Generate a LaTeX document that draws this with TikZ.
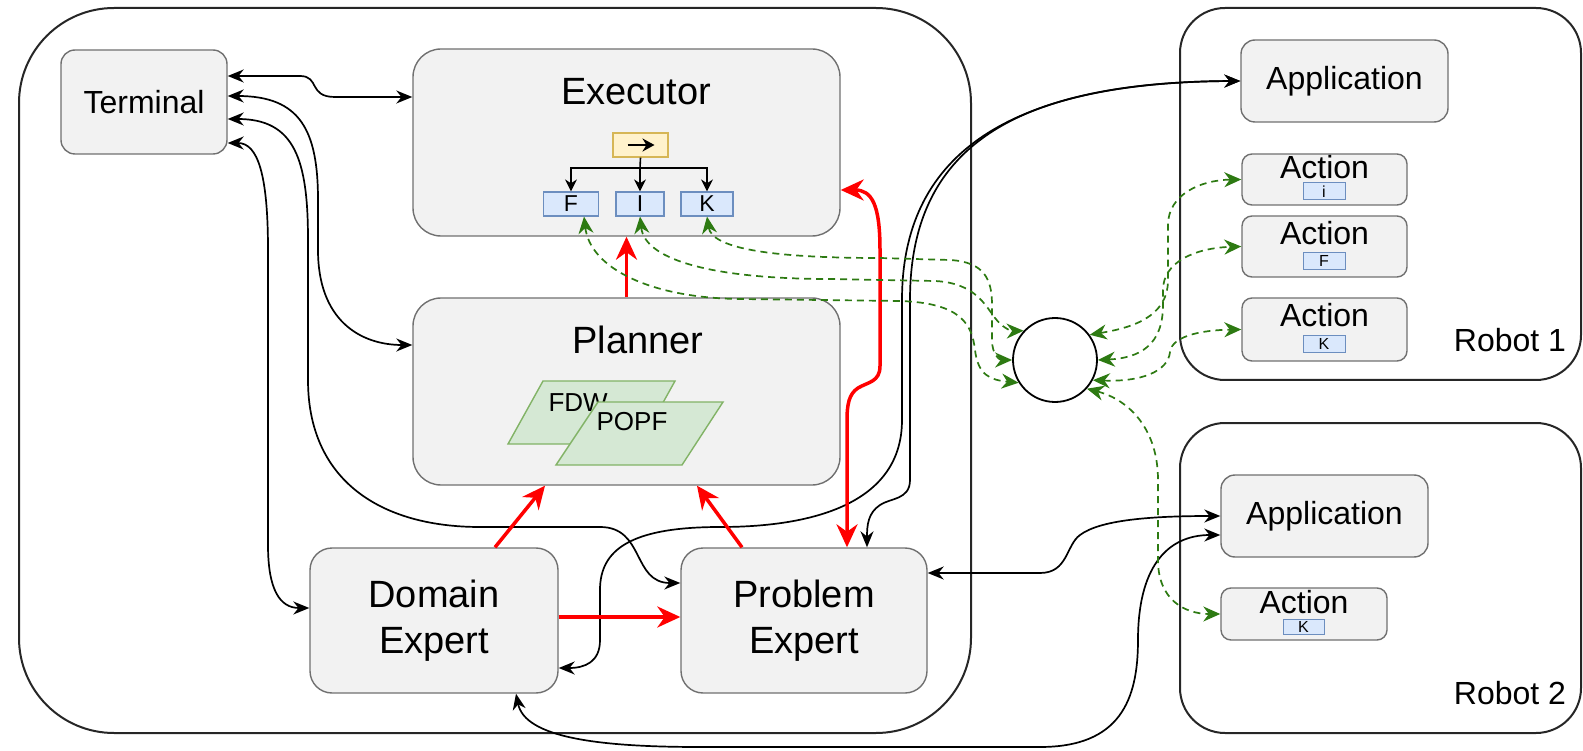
\documentclass[tikz,border=0pt]{standalone}
\usepackage{fontspec}
\setmainfont{Liberation Sans}
\usetikzlibrary{arrows.meta}

\definecolor{boxfill}{HTML}{F2F2F2}
\definecolor{boxline}{HTML}{707070}
\definecolor{tagfill}{HTML}{DAE8FC}
\definecolor{tagline}{HTML}{6C8EBF}
\definecolor{seqfill}{HTML}{FFF2CC}
\definecolor{seqline}{HTML}{D6B656}
\definecolor{plfill}{HTML}{D5E8D4}
\definecolor{plline}{HTML}{82B366}
\definecolor{msggreen}{HTML}{2D7A12}

\newcommand{\fntL}{\fontsize{38}{46}\selectfont}
\newcommand{\fntM}{\fontsize{32}{38}\selectfont}
\newcommand{\fntP}{\fontsize{26}{30}\selectfont}
\newcommand{\fntS}{\fontsize{23}{25}\selectfont}
\newcommand{\fntT}{\fontsize{16}{18}\selectfont}

\tikzset{
  frame/.style={draw=black!85, line width=2pt},
  comp/.style={draw=boxline, fill=boxfill, line width=1.4pt, rounded corners=#1, inner sep=0pt},
  comp/.default=22pt,
  seq/.style={draw=seqline, fill=seqfill, line width=1.2pt, inner sep=0pt},
  tag/.style={draw=tagline, fill=tagfill, line width=1.2pt, minimum height=24pt, inner sep=0pt, font=\fntS},
  tagsm/.style={draw=tagline, fill=tagfill, line width=1pt, minimum width=42pt, minimum height=17pt, inner sep=0pt, font=\fntT},
  pln/.style={draw=plline, fill=plfill, line width=1.4pt},
  tree/.style={draw=black, line width=1.6pt},
  link/.style={draw=black, line width=1.7pt, <->},
  flow/.style={draw=red, line width=3.5pt, -{Stealth[length=23pt,width=21pt]}},
  flowboth/.style={draw=red, line width=3.5pt, {Stealth[length=23pt,width=21pt]}-{Stealth[length=23pt,width=21pt]}},
  msg/.style={draw=msggreen, line width=1.7pt, dash pattern=on 7pt off 5pt,
    {Stealth[length=17pt,width=15pt]}-{Stealth[length=17pt,width=15pt]}}
}

\begin{document}
\begin{tikzpicture}[x=1pt, y=-1pt, >={Stealth[length=16pt,width=13pt]}]
  \useasboundingbox (0,0) rectangle (1583,751);

  % Containers.
  \draw[frame, rounded corners=95pt] (19,8) rectangle (971,733);
  \draw[frame, rounded corners=45pt] (1180,8) rectangle (1581,380);
  \draw[frame, rounded corners=45pt] (1180,423) rectangle (1581,733);
  \node[font=\fntM] (rob1) at (1510,340) {Robot 1};
  \node[font=\fntM] (rob2) at (1510,693) {Robot 2};

  % Planning system.
  \node[comp=14pt, minimum width=166pt, minimum height=104pt, font=\fntM] (term) at (144,102) {Terminal};
  \node[comp=28pt, minimum width=427pt, minimum height=187pt] (exec) at (626.5,142.5) {};
  \node[font=\fntL] (execlbl) at (636,92) {Executor};
  \node[comp=28pt, minimum width=427pt, minimum height=187pt] (plan) at (626.5,391.5) {};
  \node[font=\fntL] (planlbl) at (638,340) {Planner};
  \node[comp, minimum width=248pt, minimum height=145pt, align=center, font=\fntL] (dom) at (434,620.5) {Domain\\Expert};
  \node[comp, minimum width=246pt, minimum height=145pt, align=center, font=\fntL] (prob) at (804,620.5) {Problem\\Expert};

  % Behaviour tree.
  \node[seq, minimum width=55pt, minimum height=24pt] (seq) at (640.5,145) {};
  \draw[line width=2.8pt, -{Stealth[length=12pt,width=13pt]}] ([xshift=-13pt]seq.center) -- ([xshift=14pt]seq.center);
  \node[tag, minimum width=55pt] (bF) at (571,204) {F};
  \node[tag, minimum width=48pt] (bI) at (640,204) {I};
  \node[tag, minimum width=52pt] (bK) at (707,204) {K};
  \draw[tree] (seq.south) -- (640,168) coordinate (fork);
  \draw[tree, -{Stealth[length=12pt,width=12pt]}] (fork) -| (bF);
  \draw[tree, -{Stealth[length=12pt,width=12pt]}] (fork) -- (bI);
  \draw[tree, -{Stealth[length=12pt,width=12pt]}] (fork) -| (bK);

  % Planners.
  \filldraw[pln] (508,444) -- (543,381) -- (675,381) -- (640,444) -- cycle;
  \node[font=\fntP, anchor=west] (fdw) at (545,403) {FDW};
  \filldraw[pln] (556,465) -- (598,402) -- (723,402) -- (682,465) -- cycle;
  \node[font=\fntP] (popf) at (632,422) {POPF};

  % Robot 1.
  \node[comp=14pt, minimum width=207pt, minimum height=82pt, font=\fntM] (app1) at (1344.5,81) {Application};
  \node[comp=10pt, minimum width=165pt, minimum height=51pt] (act1) at (1324.5,179.5) {};
  \node[font=\fntM] (act1lbl) at (1324.5,167) {Action};
  \node[tagsm] (act1tag) at (1324,191.5) {i};
  \node[comp=10pt, minimum width=165pt, minimum height=61pt] (act2) at (1324.5,246.5) {};
  \node[font=\fntM] (act2lbl) at (1324.5,233) {Action};
  \node[tagsm] (act2tag) at (1324,261) {F};
  \node[comp=10pt, minimum width=165pt, minimum height=63pt] (act3) at (1324.5,329.5) {};
  \node[font=\fntM] (act3lbl) at (1324.5,315) {Action};
  \node[tagsm] (act3tag) at (1324,344) {K};

  % Robot 2.
  \node[comp=14pt, minimum width=207pt, minimum height=82pt, font=\fntM] (app2) at (1324.5,516) {Application};
  \node[comp=10pt, minimum width=166pt, minimum height=52pt] (act4) at (1304,614) {};
  \node[font=\fntM] (act4lbl) at (1304,602) {Action};
  \node[tagsm, minimum width=41pt, minimum height=15pt] (act4tag) at (1303.5,626.5) {K};

  % Hub.
  \node[draw, circle, line width=1.8pt, minimum size=84pt, inner sep=0pt] (hub) at (1055,360) {};

  % Terminal links.
  \draw[link] (term.east |- 0,76) -- (300,76) .. controls (320,76) and (308,97) .. (335,97) -- (exec.west |- 0,97);
  \draw[link] (term.east |- 0,96) .. controls (300,96) and (318,130) .. (318,200) -- (318,250) .. controls (318,320) and (360,345) .. (plan.west |- 0,345);
  \draw[link] (term.east |- 0,119) .. controls (295,119) and (308,160) .. (308,240) -- (308,380) .. controls (308,480) and (380,527) .. (480,527) -- (600,527) .. controls (645,527) and (632,583) .. (prob.west |- 0,583);
  \draw[link] (term.east |- 0,143) .. controls (258,143) and (268,175) .. (268,250) -- (268,545) .. controls (268,590) and (280,608) .. (dom.west |- 0,608);

  % Application links.
  \draw[link] (app1.west) .. controls (1010,82) and (910,150) .. (910,300) -- (910,480) .. controls (910,500) and (890,498) .. (880,505) .. controls (868,513) and (867,525) .. (prob.north -| 867,0);
  \draw[link] (app1.west) .. controls (1000,82) and (902,160) .. (902,300) -- (902,420) .. controls (902,500) and (820,527) .. (720,527) .. controls (630,527) and (600,550) .. (600,590) -- (600,640) .. controls (600,662) and (585,668) .. (dom.east |- 0,668);
  \draw[link] (prob.east |- 0,573) -- (1040,573) .. controls (1068,573) and (1066,545) .. (1080,535) .. controls (1100,520) and (1150,516) .. (app2.west);
  \draw[link] (dom.south -| 516,0) .. controls (525,738) and (600,747) .. (700,747) -- (1040,747) .. controls (1120,747) and (1138,700) .. (1138,640) .. controls (1138,570) and (1165,535) .. (app2.west |- 0,535);

  % Planning flow.
  \draw[flow] (plan.north) -- (exec.south);
  \draw[flow] (dom.north -| 495,0) -- (plan.south -| 545,0);
  \draw[flow] (prob.north -| 742,0) -- (plan.south -| 697,0);
  \draw[flow] (dom.east |- 0,617) -- (prob.west |- 0,617);
  \draw[flowboth] (exec.east |- 0,190) .. controls (872,190) and (880,205) .. (880,250) -- (880,366) .. controls (880,382) and (868,382) .. (858,388) .. controls (849,394) and (847,404) .. (847,421) -- (prob.north -| 847,0);

  % Action messages.
  \draw[msg] (bK.south) .. controls (712,250) and (780,258) .. (880,258) -- (950,260) .. controls (985,262) and (992,280) .. (992,305) -- (992,340) .. controls (992,355) and (1000,360) .. (hub.west);
  \draw[msg] (bI.south) .. controls (645,262) and (720,279) .. (830,279) -- (935,281) .. controls (975,283) and (985,305) .. (995,318) .. controls (1002,327) and (1010,331) .. (hub.137);
  \draw[msg] (bF.south -| 584,0) .. controls (590,268) and (650,298) .. (740,299) -- (900,301) .. controls (962,303) and (972,325) .. (975,350) .. controls (978,375) and (990,380) .. (hub.212);
  \draw[msg] (hub.36) .. controls (1130,328) and (1168,318) .. (1168,280) -- (1168,225) .. controls (1168,195) and (1200,180) .. (act1.west);
  \draw[msg] (hub.east) .. controls (1140,358) and (1163,345) .. (1163,305) -- (1163,290) .. controls (1163,262) and (1195,248) .. (act2.west);
  \draw[msg] (hub.-28) .. controls (1140,382) and (1168,372) .. (1170,352) .. controls (1172,335) and (1205,330) .. (act3.west);
  \draw[msg] (hub.-42) .. controls (1130,400) and (1158,430) .. (1158,480) -- (1158,560) .. controls (1158,600) and (1185,614) .. (act4.west);
\end{tikzpicture}
\end{document}
